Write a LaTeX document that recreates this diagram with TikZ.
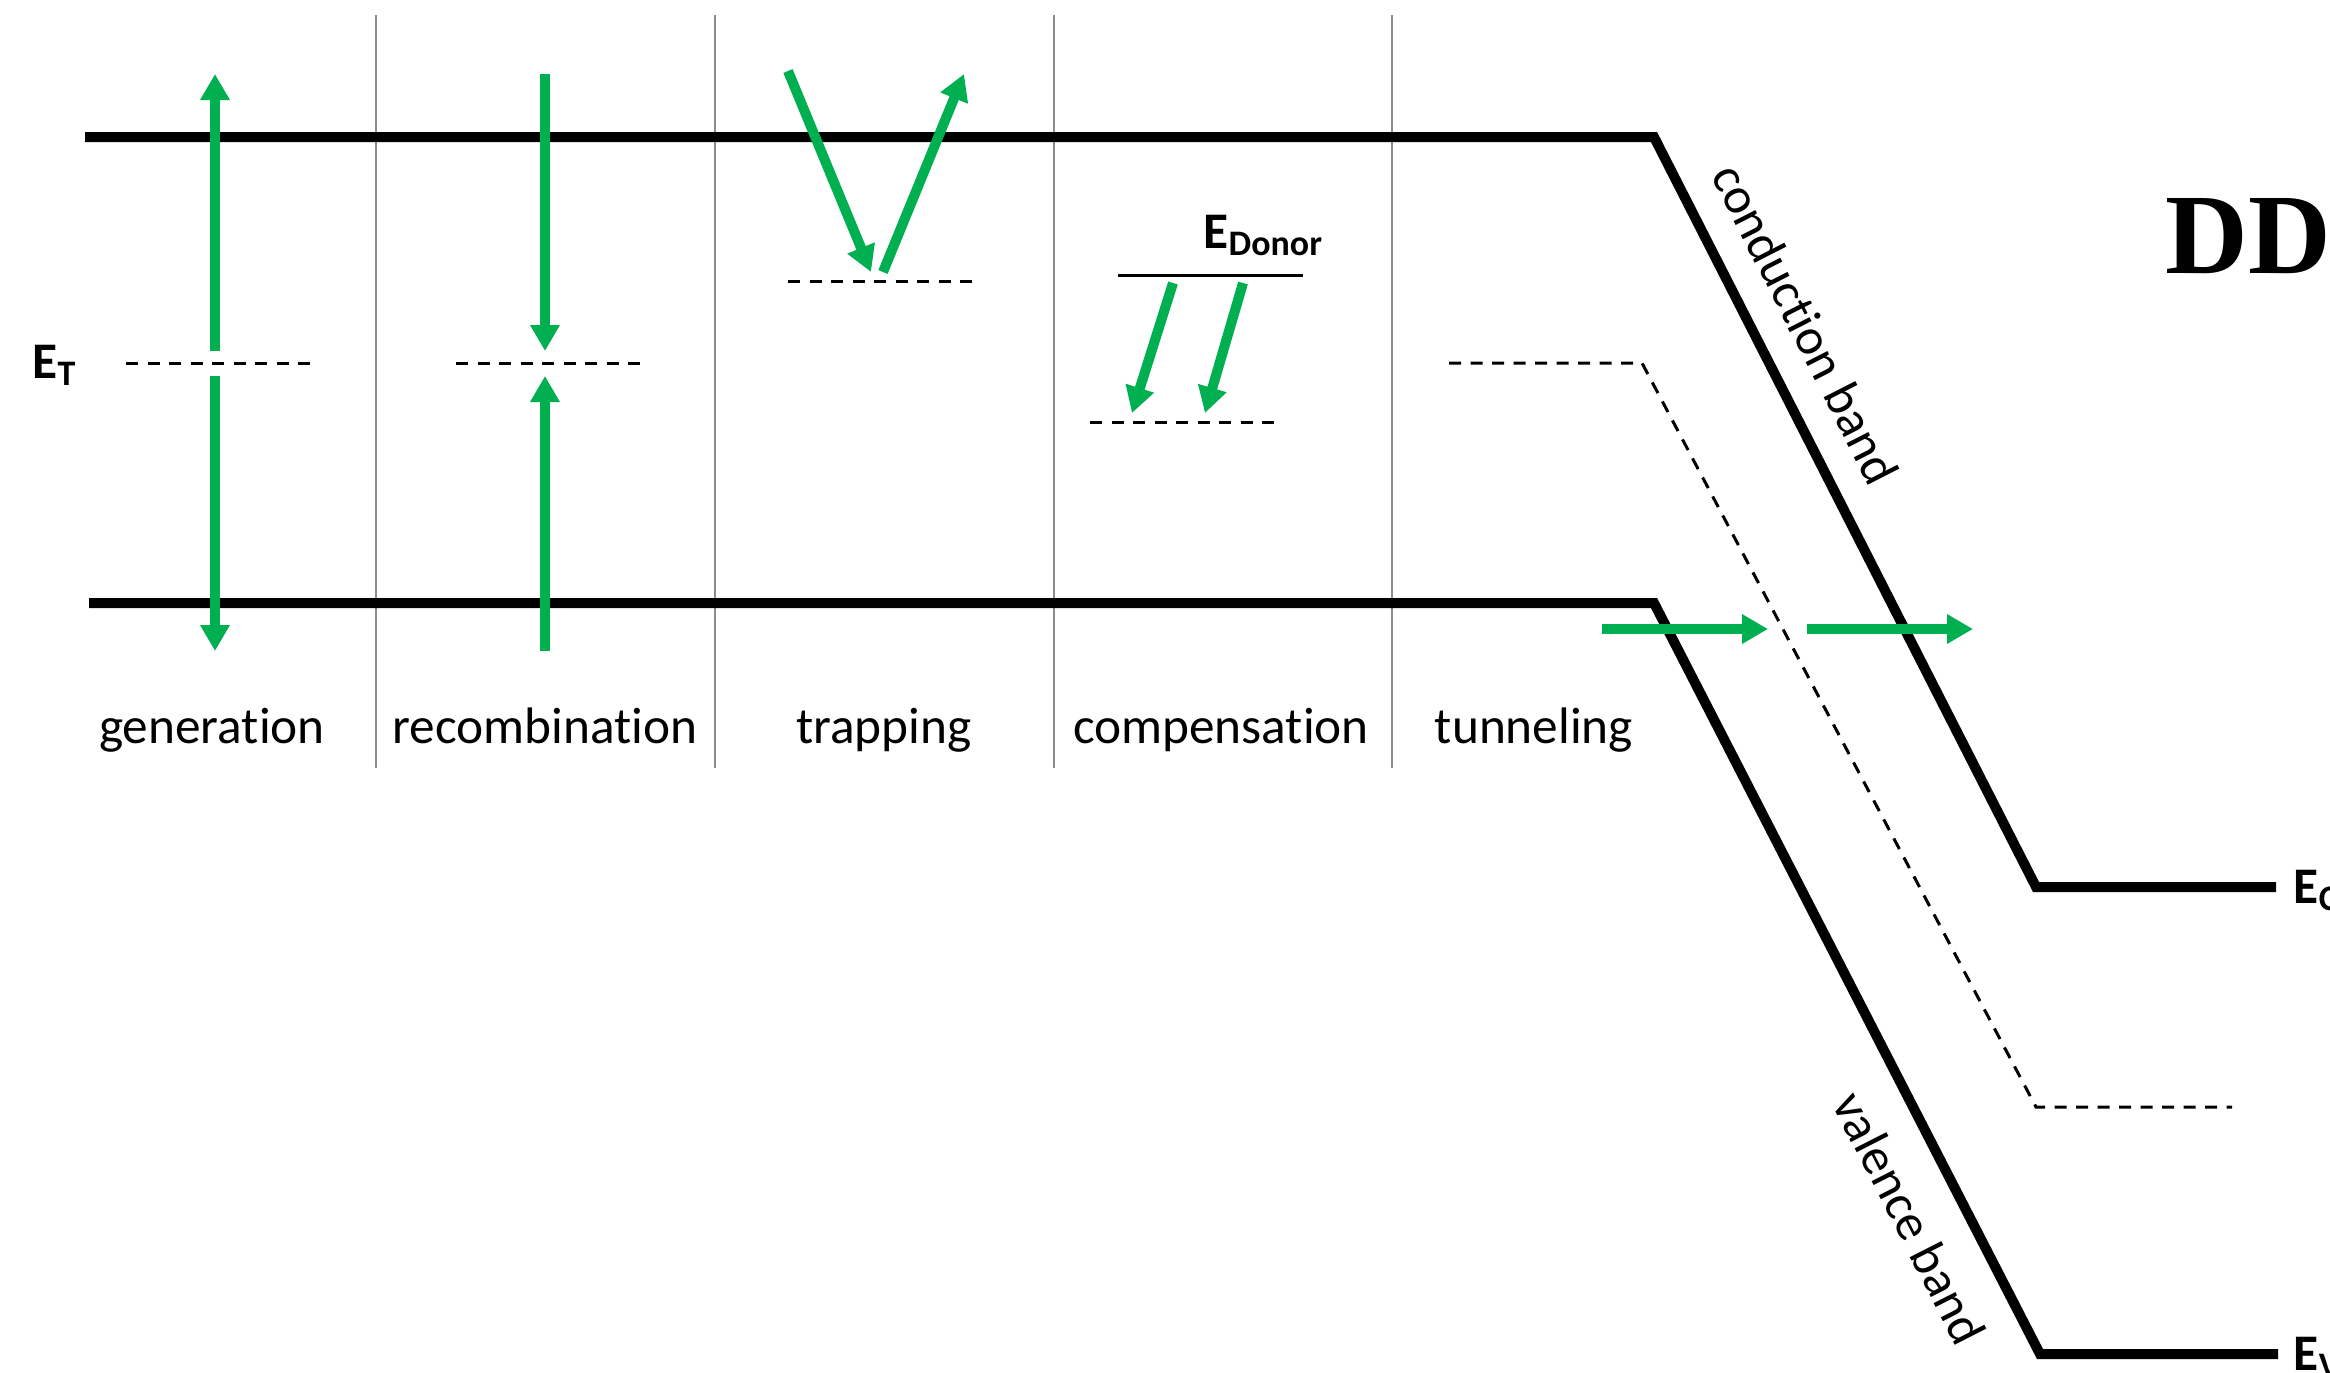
\documentclass[tikz,border=0pt]{standalone}
\usepackage{fontspec}
\setmainfont{Carlito}[Ligatures=NoCommon]
\newfontfamily\titlefont{Liberation Serif}
\usetikzlibrary{arrows.meta}
\definecolor{arrowgreen}{RGB}{0,176,80}
\begin{document}
\begin{tikzpicture}[x=0.1mm,y=-0.1mm,
  bandline/.style={line width=1mm, line join=miter},
  divider/.style={line width=0.25mm, draw=black!45},
  traplevel/.style={line width=0.3mm, dash pattern=on 1.2mm off 0.95mm},
  greenarrow/.style={draw=arrowgreen, line width=1mm,
    -{Triangle[length=2.6mm,width=2.8mm]}},
  proclabel/.style={font=\fontsize{14.6}{17}\selectfont, inner sep=0pt, anchor=base},
  energy/.style={font=\fontsize{14.6}{17}\selectfont\bfseries, inner sep=0pt, anchor=base west},
  bandname/.style={font=\fontsize{14.6}{17}\selectfont, rotate=-63, inner sep=0pt}]
\useasboundingbox (0,0) rectangle (2330,1372);

% column dividers
\foreach \x in {376,715,1054,1392}
  \draw[divider] (\x,15) -- (\x,768);

% conduction and valence band edges
\draw[bandline] (85,137) -- (1654,137) -- (2036,887) -- (2276,887);
\draw[bandline] (89,603) -- (1654,603) -- (2040,1354) -- (2278,1354);

% trap and donor levels
\draw[traplevel] (126,363) -- (312,363);
\draw[traplevel] (456,363) -- (643,363);
\draw[traplevel] (788,281) -- (975,281);
\draw[line width=0.3mm] (1118,275) -- (1303,275);
\draw[traplevel] (1090,422) -- (1278,422);
\draw[traplevel] (1449,363) -- (1642,363) -- (2036,1107) -- (2232,1107);

% generation
\draw[greenarrow] (215,351) -- (215,74);
\draw[greenarrow] (215,376) -- (215,651);
% recombination
\draw[greenarrow] (545,74) -- (545,351);
\draw[greenarrow] (545,651) -- (545,376);
% trapping
\draw[greenarrow] (788,71) -- (871,272);
\draw[greenarrow] (883,272) -- (964,74);
% compensation
\draw[greenarrow] (1173,283) -- (1132,413);
\draw[greenarrow] (1243,283) -- (1205,413);
% tunneling
\draw[greenarrow] (1602,629) -- (1768,629);
\draw[greenarrow] (1807,629) -- (1973,629);

% process labels
\node[proclabel] (lgen) at (212,743) {generation};
\node[proclabel] (lrec) at (545,743) {recombination};
\node[proclabel] (ltrap) at (884,743) {trapping};
\node[proclabel] (lcomp) at (1221,743) {compensation};
\node[proclabel] (ltun) at (1534,743) {tunneling};

% energy labels
\node[energy] (et) at (32,378) {E\textsubscript{T}};
\node[energy] (ed) at (1203,248) {E\textsubscript{Donor}};
\node[energy] (ec) at (2293,903) {E\textsubscript{C}};
\node[energy] (ev) at (2293,1370) {E\textsubscript{V}};

% band names along the slopes
\node[bandname] (cb) at (1806,324) {conduction band};
\node[bandname] (vb) at (1910,1218) {valence band};

% title
\node[font=\titlefont\fontsize{32.6}{36}\selectfont\bfseries, inner sep=0pt, anchor=base west] (title) at (2165,273) {DD};
\end{tikzpicture}
\end{document}
